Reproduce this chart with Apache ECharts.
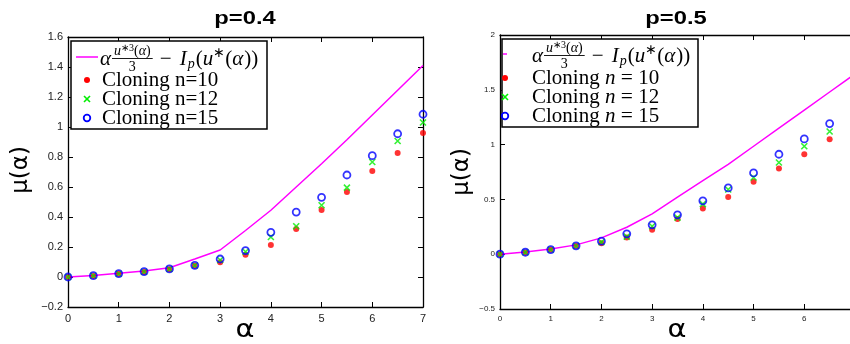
<!DOCTYPE html>
<html><head><meta charset="utf-8">
<script src="https://cdn.jsdelivr.net/npm/echarts@6/dist/echarts.min.js"></script>
<style>html,body{margin:0;padding:0;background:#fff}#c{width:850px;height:344px}</style>
</head><body><div id="c"></div>
<script>
// ---- data ----
const alphaL = [0,0.5,1,1.5,2,2.5,3,3.5,4,4.5,5,5.5,6,6.5,7];
const lineL  = [0,0.01,0.025,0.04,0.062,0.12,0.18,0.31,0.445,0.6,0.755,0.915,1.08,1.245,1.41];
const n10L   = [0,0.007,0.022,0.034,0.051,0.075,0.098,0.149,0.213,0.32,0.447,0.567,0.707,0.827,0.96];
const n12L   = [0,0.008,0.022,0.035,0.053,0.077,0.113,0.168,0.267,0.338,0.478,0.596,0.767,0.907,1.03];
const n15L   = [0,0.009,0.023,0.036,0.054,0.078,0.12,0.176,0.298,0.433,0.531,0.68,0.809,0.955,1.085];

const alphaLineR = [0,0.5,1,1.5,2,2.5,3,3.5,4,4.5,5,5.5,6,6.5,7];
const lineR  = [0,0.02,0.048,0.085,0.149,0.246,0.368,0.52,0.672,0.82,0.985,1.15,1.315,1.48,1.645];
const alphaR = [0,0.5,1,1.5,2,2.5,3,3.5,4,4.5,5,5.5,6,6.5];
const n10R   = [0,0.016,0.04,0.074,0.10,0.152,0.222,0.322,0.417,0.523,0.66,0.782,0.912,1.049];
const n12R   = [0,0.017,0.041,0.075,0.11,0.16,0.255,0.334,0.457,0.59,0.70,0.837,0.985,1.119];
const n15R   = [0,0.018,0.042,0.076,0.119,0.186,0.268,0.359,0.487,0.605,0.742,0.912,1.052,1.192];

const titles = ['p=0.4','p=0.5'];
const xName = 'α', yName = 'μ(α)';
const legendNames = ['Cloning n=10','Cloning n=12','Cloning n=15'];

// ---- helpers ----
const zip = (xs, ys) => xs.map((x,i)=>[x, ys[i]]);
const fmt = v => (v < 0 ? '\u2212' + String(-v) : String(v));
const RED='#ff0000', GREEN='#00ee00', BLUE='#0000ff', MAG='#ff00ff';
const crossPath = 'path://M0,0L10,10M10,0L0,10';

function axesFor(gi, xmin, xmax, xint, ymin, ymax, yint, fs){
  const line = {show:true, onZero:false, lineStyle:{color:'#000', width:1.3}};
  const tick = {show:true, inside:true, length:5, lineStyle:{color:'#000', width:1}};
  const lab = {color:'#222', fontSize:fs, fontFamily:'Liberation Sans, Arial', formatter:fmt};
  return {
    x: [
      {type:'value', gridIndex:gi, position:'bottom', min:xmin, max:xmax, interval:xint,
       axisLine:line, axisTick:tick, splitLine:{show:false}, axisLabel:Object.assign({margin:6},lab)},
      {type:'value', gridIndex:gi, position:'top', min:xmin, max:xmax, interval:xint,
       axisLine:line, axisTick:tick, splitLine:{show:false}, axisLabel:{show:false}}
    ],
    y: [
      {type:'value', gridIndex:gi, position:'left', min:ymin, max:ymax, interval:yint,
       axisLine:line, axisTick:tick, splitLine:{show:false}, axisLabel:Object.assign({margin:5},lab)},
      {type:'value', gridIndex:gi, position:'right', min:ymin, max:ymax, interval:yint,
       axisLine:line, axisTick:tick, splitLine:{show:false}, axisLabel:{show:false}}
    ]
  };
}
const aL = axesFor(0, 0, 7, 1, -0.2, 1.6, 0.2, 11);
const aR = axesFor(1, 0, 7, 1, -0.5, 2, 0.5, 8);

function seriesFor(xi, yi, xsLine, ysLine, xs, a, b, c){
  return [
    {type:'line', xAxisIndex:xi, yAxisIndex:yi, data:zip(xsLine, ysLine), showSymbol:false,
     lineStyle:{color:MAG, width:1.5}, silent:true, z:2},
    {type:'scatter', xAxisIndex:xi, yAxisIndex:yi, data:zip(xs, a), symbol:'circle', symbolSize:6,
     itemStyle:{color:RED}, z:3},
    {type:'scatter', xAxisIndex:xi, yAxisIndex:yi, data:zip(xs, b), symbol:crossPath, symbolSize:6,
     itemStyle:{color:'none', borderColor:GREEN, borderWidth:1.6}, z:4},
    {type:'scatter', xAxisIndex:xi, yAxisIndex:yi, data:zip(xs, c), symbol:'circle', symbolSize:7,
     itemStyle:{color:'none', borderColor:BLUE, borderWidth:1.8}, z:5}
  ];
}

// ---- legend built as graphic elements ----
const mctx = document.createElement('canvas').getContext('2d');
function tw(t, font){ mctx.font = font; return mctx.measureText(t).width; }
const SERIF = 'Liberation Serif';
function runText(x, y, pieces){
  const out = [];
  let cx = x;
  pieces.forEach(p=>{
    const font = (p.it?'italic ':'') + p.fs + 'px ' + SERIF;
    out.push({type:'text', x:cx, y:y+(p.dy||0), z:101,
      style:{text:p.t, font:font, fill:'#000', textVerticalAlign:'middle', textAlign:'left'}});
    cx += tw(p.t, font) + (p.gap||0);
  });
  return {els:out, end:cx};
}
function formula(x, y){
  const els = [];
  const fs = 21, sf = 14, ssf = 10;
  let r = runText(x, y, [{t:'α', it:true, fs:fs}]);
  els.push(...r.els);
  const fx0 = r.end + 1;
  const numPieces = [{t:'u', it:true, fs:sf},{t:'∗3', fs:ssf, dy:-3},{t:'(', fs:sf},{t:'α', it:true, fs:sf},{t:')', fs:sf}];
  let numW = 0; numPieces.forEach(p=>{numW += tw(p.t, (p.it?'italic ':'')+p.fs+'px '+SERIF);});
  const fw = numW + 4;
  const fc = fx0 + fw/2;
  els.push(...runText(fc - numW/2, y-8, numPieces).els);
  els.push({type:'line', z:101, shape:{x1:fx0, y1:y-0.5, x2:fx0+fw, y2:y-0.5}, style:{stroke:'#000', lineWidth:0.9}});
  els.push(...runText(fc - tw('3', sf+'px '+SERIF)/2, y+8, [{t:'3', fs:sf}]).els);
  r = runText(fx0 + fw + 7, y, [
    {t:'− ', fs:fs, gap:3},{t:'I', it:true, fs:fs, gap:1},{t:'p', it:true, fs:sf, dy:5, gap:1},
    {t:'(', fs:fs},{t:'u', it:true, fs:fs},{t:'∗', fs:sf, dy:-6},{t:'(', fs:fs},{t:'α', it:true, fs:fs, gap:1},{t:'))', fs:fs}
  ]);
  els.push(...r.els);
  return els;
}
function markerEls(x, y, kind){
  if (kind==='line') return [{type:'line', z:101, shape:{x1:x-11, y1:y, x2:x+11, y2:y}, style:{stroke:MAG, lineWidth:1.5}}];
  if (kind==='dash') return [{type:'line', z:101, shape:{x1:x-2, y1:y, x2:x+2, y2:y}, style:{stroke:MAG, lineWidth:1.5}}];
  if (kind==='red') return [{type:'circle', z:101, shape:{cx:x, cy:y, r:3}, style:{fill:RED}}];
  if (kind==='green') return [
    {type:'line', z:101, shape:{x1:x-3, y1:y-3, x2:x+3, y2:y+3}, style:{stroke:GREEN, lineWidth:1.6}},
    {type:'line', z:101, shape:{x1:x+3, y1:y-3, x2:x-3, y2:y+3}, style:{stroke:GREEN, lineWidth:1.6}}];
  return [{type:'circle', z:101, shape:{cx:x, cy:y, r:3.3}, style:{fill:'none', stroke:BLUE, lineWidth:1.8}}];
}
function legendBox(bx, by, bw, bh, mx, tx, rows, style){
  const els = [{type:'rect', z:100, shape:{x:bx, y:by, width:bw, height:bh},
    style:{fill:'#fff', stroke:'#000', lineWidth:1.5}}];
  els.push(...markerEls(mx, rows[0], style==='L' ? 'line' : 'dash'));
  els.push(...formula(tx, rows[0]+2));
  const kinds = ['red','green','blue'];
  for (let i=0;i<3;i++){
    els.push(...markerEls(mx, rows[i+1], kinds[i]));
    const name = legendNames[i];
    if (style==='L'){
      els.push(...runText(tx+2, rows[i+1], [{t:name, fs:21}]).els);
    } else {
      const parts = name.split('n=');
      els.push(...runText(tx, rows[i+1], [{t:parts[0], fs:21},{t:'n', it:true, fs:21},{t:' = ', fs:21.5},{t:parts[1], fs:21}]).els);
    }
  }
  return els;
}
const txt = (t, x, y, font, extra) => Object.assign({type:'text', x:x, y:y, z:101,
  style:{text:t, font:font, fill:'#000', textAlign:'center', textVerticalAlign:'middle'}}, extra||{});
const titleEls = [
  txt(titles[0], 245, 19, 'bold 19px Liberation Sans', {scaleX:1.25}),
  txt(titles[1], 676, 19, 'bold 19px Liberation Sans', {scaleX:1.25}),
  txt(xName, 245, 331, '24px DejaVu Sans', {scaleX:1.2}),
  txt(xName, 677, 331, '24px DejaVu Sans', {scaleX:1.2}),
  txt(yName, 21, 170, '23px DejaVu Sans', {rotation:Math.PI/2}),
  txt(yName, 462, 172, '23px DejaVu Sans', {rotation:Math.PI/2})
];
const graphics = titleEls
  .concat(legendBox(71, 41, 196, 88, 87, 100, [57, 80, 99, 118], 'L'))
  .concat(legendBox(502, 39, 196, 88, 505, 532, [54, 78, 97, 116], 'R'));

const chart = echarts.init(document.getElementById('c'), null, {renderer:'canvas'});
chart.setOption({
  animation:false,
  backgroundColor:'#fff',
  grid:[
    {left:68, top:37, width:355, height:270, outerBoundsMode:'none', containLabel:false},
    {left:500, top:35, width:355, height:274, outerBoundsMode:'none', containLabel:false}
  ],
  xAxis: aL.x.concat(aR.x),
  yAxis: aL.y.concat(aR.y),
  series: seriesFor(0, 0, alphaL, lineL, alphaL, n10L, n12L, n15L)
          .concat(seriesFor(2, 2, alphaLineR, lineR, alphaR, n10R, n12R, n15R)),
  graphic: graphics
});
</script></body></html>
